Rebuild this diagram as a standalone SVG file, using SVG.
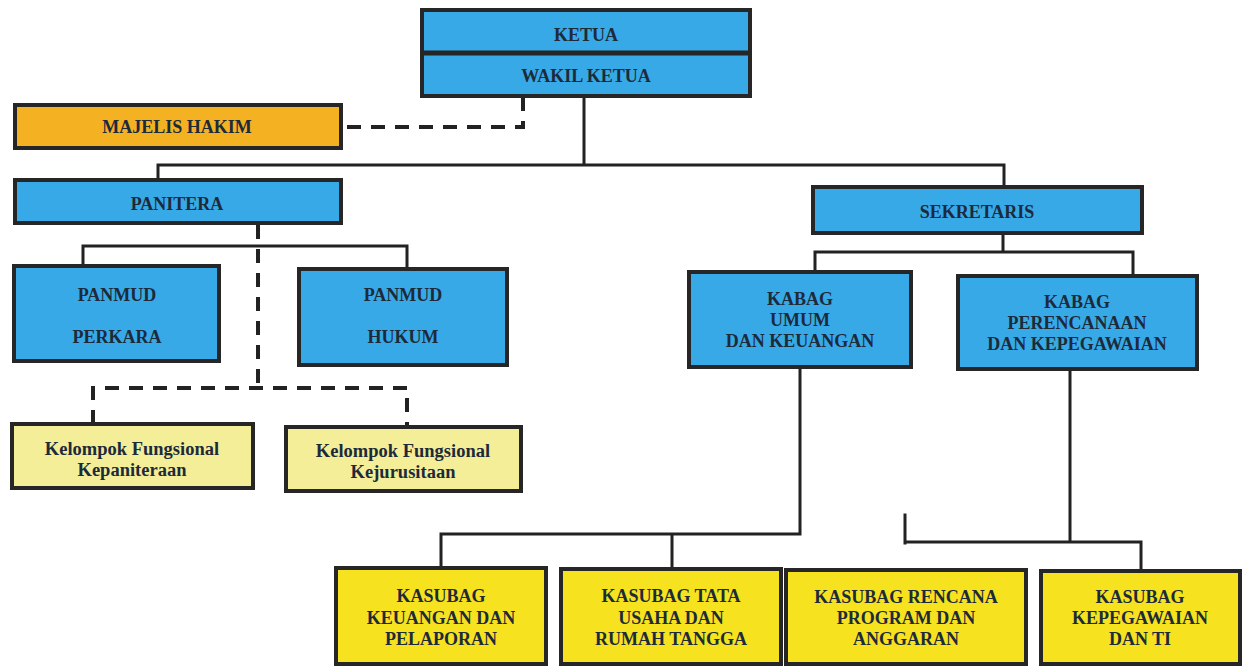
<svg xmlns="http://www.w3.org/2000/svg" width="1247" height="668" viewBox="0 0 1247 668">
<style>
.box{stroke:#262626;stroke-width:4;}
.blue{fill:#37A9E6;}
.orange{fill:#F4B223;}
.pale{fill:#F4EE98;}
.yellow{fill:#F6E21E;}
.t{font-family:'Liberation Serif','DejaVu Serif','Times New Roman',Times,serif;font-weight:700;font-size:18px;fill:#1d2a3a;text-anchor:middle;}
.ts{font-size:18.5px;}
.ln{stroke:#222;stroke-width:3;fill:none;stroke-linecap:square;}
.dash{stroke:#222;stroke-width:4;fill:none;stroke-dasharray:14 10;}
</style>
<rect width="1247" height="668" fill="#ffffff"/>
<g id="connectors">
<path class="ln" d="M584 96V165M158 165H1004M158 165V180M1004 165V187"/>
<path class="ln" d="M182 207V222"/>
<path class="ln" d="M83 246H407M83 246V266M407 246V269"/>
<path class="ln" d="M1003 233V252M815 252H1133M815 252V272M1133 252V276"/>
<path class="ln" d="M800 367V534H441V567M672 534V568"/>
<path class="ln" d="M1070 369V542M905 515V543M905 542H1141V570"/>
<path class="dash" d="M523 97V127H345"/>
<path class="dash" d="M258 225V388"/>
<path class="dash" d="M93 424V388H407V426"/>
</g>
<g id="ketua">
<rect class="box blue" x="422" y="10" width="328" height="86"/>
<line x1="422" y1="53" x2="750" y2="53" stroke="#262626" stroke-width="5"/>
<text class="t" x="586" y="41">KETUA</text>
<text class="t" x="586" y="82">WAKIL KETUA</text>
</g>
<g id="majelis-hakim">
<rect class="box orange" x="15" y="105" width="326" height="43"/>
<text class="t" x="177" y="133">MAJELIS HAKIM</text>
</g>
<g id="panitera">
<rect class="box blue" x="15" y="180" width="326" height="43"/>
<text class="t" x="177" y="210">PANITERA</text>
</g>
<g id="panmud-perkara">
<rect class="box blue" x="14" y="266" width="205" height="95"/>
<text class="t" x="117" y="301">PANMUD</text>
<text class="t" x="117" y="343">PERKARA</text>
</g>
<g id="panmud-hukum">
<rect class="box blue" x="299" y="269" width="208" height="96"/>
<text class="t" x="403" y="301">PANMUD</text>
<text class="t" x="403" y="343">HUKUM</text>
</g>
<g id="kf-kepaniteraan">
<rect class="box pale" x="12" y="424" width="241" height="64"/>
<text class="t ts" x="132" y="455">Kelompok Fungsional</text>
<text class="t ts" x="132" y="476">Kepaniteraan</text>
</g>
<g id="kf-kejurusitaan">
<rect class="box pale" x="286" y="427" width="235" height="64"/>
<text class="t ts" x="403" y="457">Kelompok Fungsional</text>
<text class="t ts" x="403" y="478">Kejurusitaan</text>
</g>
<g id="sekretaris">
<rect class="box blue" x="813" y="187" width="329" height="46"/>
<text class="t" x="977" y="218">SEKRETARIS</text>
</g>
<g id="kabag-umum">
<rect class="box blue" x="689" y="272" width="222" height="95"/>
<text class="t" x="800" y="305">KABAG</text>
<text class="t" x="800" y="326">UMUM</text>
<text class="t" x="800" y="347">DAN KEUANGAN</text>
</g>
<g id="kabag-perencanaan">
<rect class="box blue" x="958" y="276" width="239" height="93"/>
<text class="t" x="1077" y="308">KABAG</text>
<text class="t" x="1077" y="329">PERENCANAAN</text>
<text class="t" x="1077" y="350">DAN KEPEGAWAIAN</text>
</g>
<g id="kasubag-keuangan">
<rect class="box yellow" x="336" y="568" width="210" height="96"/>
<text class="t" x="441" y="602">KASUBAG</text>
<text class="t" x="441" y="624">KEUANGAN DAN</text>
<text class="t" x="441" y="645">PELAPORAN</text>
</g>
<g id="kasubag-tata-usaha">
<rect class="box yellow" x="561" y="569" width="220" height="95"/>
<text class="t" x="671" y="602">KASUBAG TATA</text>
<text class="t" x="671" y="624">USAHA DAN</text>
<text class="t" x="671" y="645">RUMAH TANGGA</text>
</g>
<g id="kasubag-rencana">
<rect class="box yellow" x="786" y="570" width="240" height="94"/>
<text class="t" x="906" y="603">KASUBAG RENCANA</text>
<text class="t" x="906" y="624">PROGRAM DAN</text>
<text class="t" x="906" y="645">ANGGARAN</text>
</g>
<g id="kasubag-kepegawaian">
<rect class="box yellow" x="1041" y="571" width="199" height="93"/>
<text class="t" x="1140" y="603">KASUBAG</text>
<text class="t" x="1140" y="624">KEPEGAWAIAN</text>
<text class="t" x="1140" y="645">DAN TI</text>
</g>
</svg>
